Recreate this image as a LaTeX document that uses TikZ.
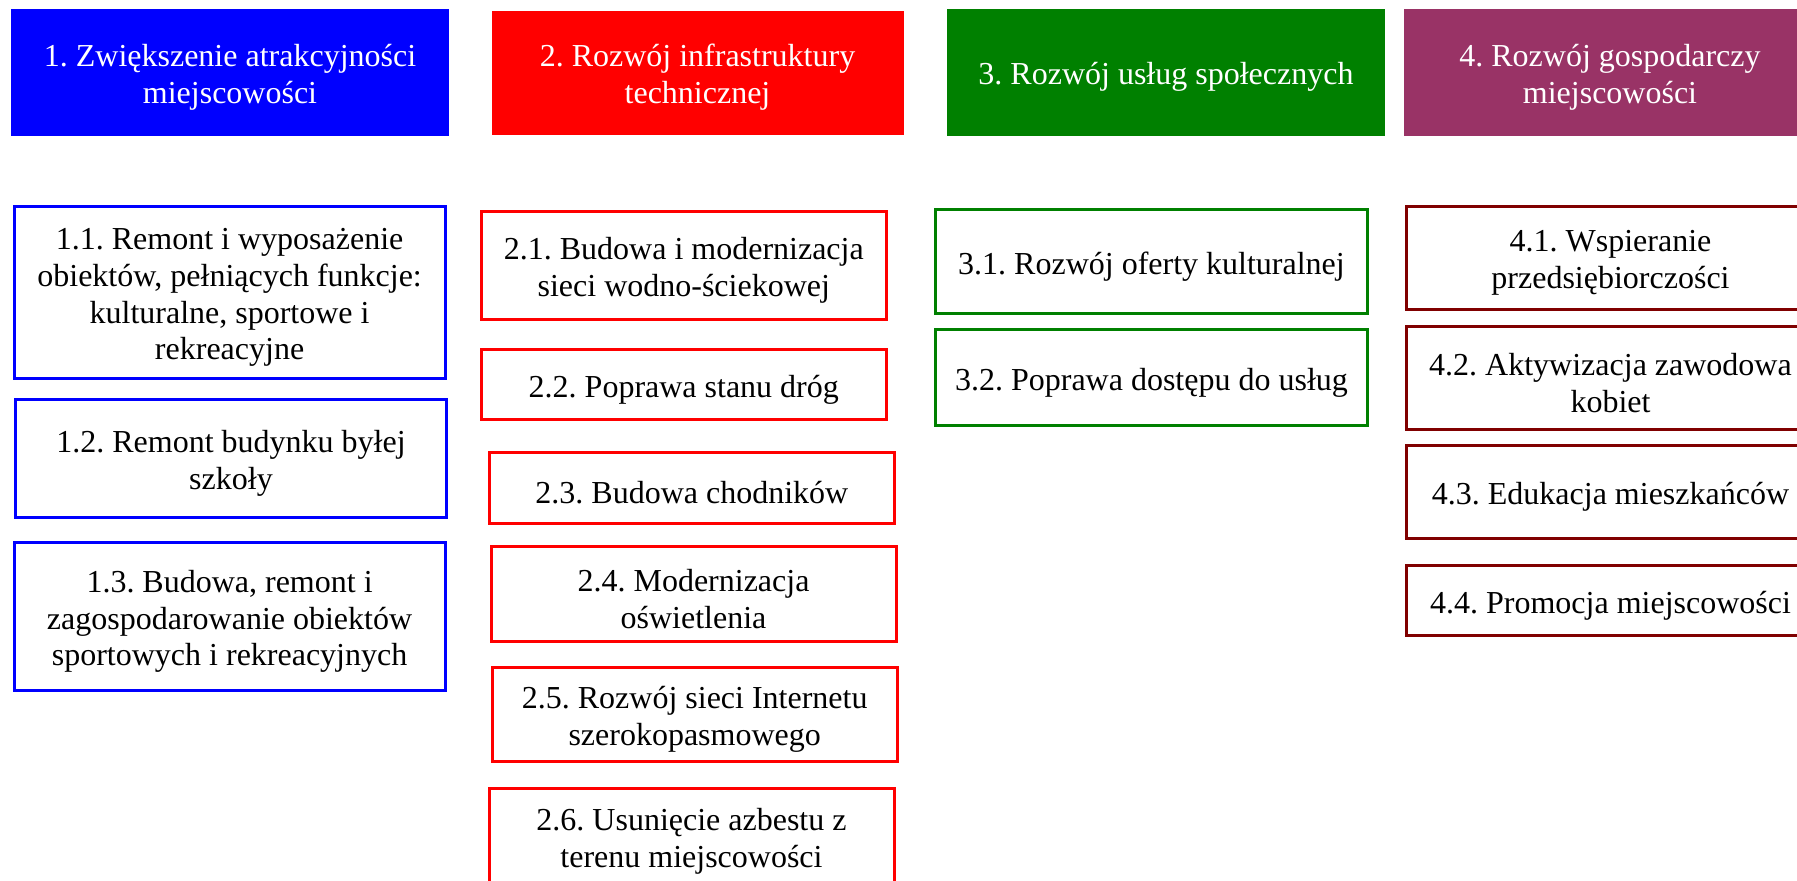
\documentclass[tikz,border=0pt]{standalone}
\usepackage{fontspec}
\setmainfont{Liberation Serif}
\usepackage{tikz}
\usetikzlibrary{positioning}
\definecolor{plum}{HTML}{993366}
\definecolor{maroon}{HTML}{800000}
\definecolor{dgreen}{HTML}{008000}
\frenchspacing

\begin{document}
\begin{tikzpicture}[x=1pt, y=-1pt, font=\fontsize{32}{36.8}\selectfont,
  head/.style={draw=#1, fill=#1, inner sep=0pt},
  item/.style={draw=#1, line width=3pt, fill=white, inner sep=0pt},
  txt/.style={align=center, inner sep=0pt, yshift=-5pt}]
  \useasboundingbox (0,0) rectangle (1797,881);
  % naglowki
  \foreach \n/\c/\x/\y/\w/\h/\txt in {h1/blue/230/72/437/126/{1. Zwiększenie atrakcyjności\\miejscowości},
      h2/red/697.5/72.2/411/123/{2. Rozwój infrastruktury\\technicznej},
      h3/dgreen/1166/72/437/126/{3. Rozwój usług społecznych},
      h4/plum/1610/72/412/126/{4. Rozwój gospodarczy\\miejscowości}}{
    \node[head=\c, minimum width=\w, minimum height=\h] (\n) at (\x,\y) {};
    \node[txt, text=white] (\n t) at (\n.center) {\txt};}
  % kolumna 1
  \foreach \n/\x/\y/\h/\txt in {c11/229.6/292.5/172/{1.1. Remont i wyposażenie\\obiektów, pełniących funkcje:\\kulturalne, sportowe i\\rekreacyjne},
      c12/231/458.5/118/{1.2. Remont budynku byłej\\szkoły},
      c13/229.6/616.5/148/{1.3. Budowa, remont i\\zagospodarowanie obiektów\\sportowych i rekreacyjnych}}{
    \node[item=blue, minimum width=431, minimum height=\h] (\n) at (\x,\y) {};
    \node[txt] (\n t) at (\n.center) {\txt};}
  % kolumna 2
  \foreach \n/\x/\y/\h/\txt in {c21/683.8/265.5/108/{2.1. Budowa i modernizacja\\sieci wodno-ściekowej},
      c22/683.8/384.5/70/{2.2. Poprawa stanu dróg},
      c23/691.9/488/71/{2.3. Budowa chodników},
      c24/693.5/594/95/{2.4. Modernizacja\\oświetlenia},
      c25/694.7/714.5/94/{2.5. Rozwój sieci Internetu\\szerokopasmowego},
      c26/691.5/836/95/{2.6. Usunięcie azbestu z\\terenu miejscowości}}{
    \node[item=red, minimum width=405, minimum height=\h] (\n) at (\x,\y) {};
    \node[txt] (\n t) at (\n.center) {\txt};}
  % kolumna 3
  \foreach \n/\y/\h/\txt in {c31/261.5/104/{3.1. Rozwój oferty kulturalnej},
      c32/377.5/96/{3.2. Poprawa dostępu do usług}}{
    \node[item=dgreen, minimum width=432, minimum height=\h] (\n) at (1151.5,\y) {};
    \node[txt] (\n t) at (\n.center) {\txt};}
  % kolumna 4
  \foreach \n/\y/\h/\txt in {c41/258/103/{4.1. Wspieranie\\przedsiębiorczości},
      c42/378/103/{4.2. Aktywizacja zawodowa\\kobiet},
      c43/492/93/{4.3. Edukacja mieszkańców},
      c44/600.5/70/{4.4. Promocja miejscowości}}{
    \node[item=maroon, minimum width=408, minimum height=\h] (\n) at (1610.5,\y) {};
    \node[txt] (\n t) at (\n.center) {\txt};}
\end{tikzpicture}
\end{document}
